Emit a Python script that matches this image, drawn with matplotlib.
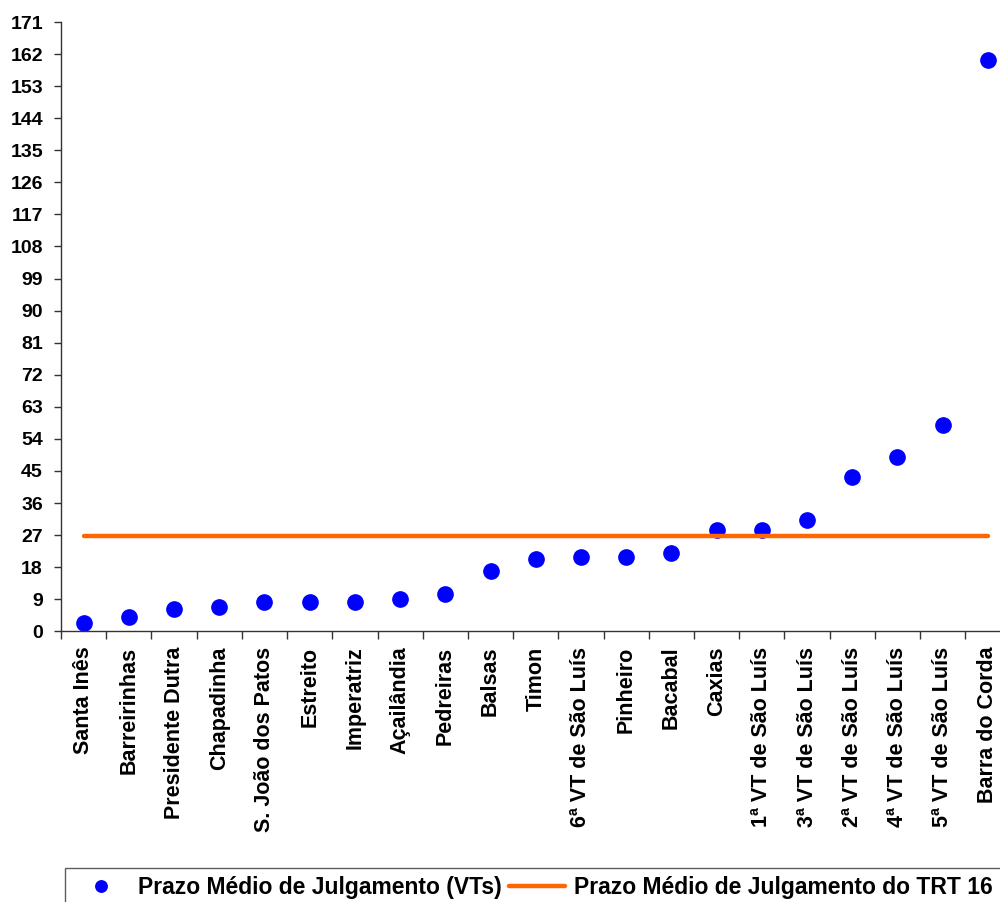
import numpy as np
import matplotlib.pyplot as plt

# labels and values
varas = ['Santa Inês', 'Barreirinhas', 'Presidente Dutra', 'Chapadinha',
         'S. João dos Patos', 'Estreito', 'Imperatriz', 'Açailândia',
         'Pedreiras', 'Balsas', 'Timon', '6ª VT de São Luís', 'Pinheiro',
         'Bacabal', 'Caxias', '1ª VT de São Luís', '3ª VT de São Luís',
         '2ª VT de São Luís', '4ª VT de São Luís', '5ª VT de São Luís',
         'Barra do Corda']
prazo_vts = [2.4, 4.1, 6.3, 6.8, 8.1, 8.1, 8.1, 9.2, 10.4, 17.0, 20.4,
             20.9, 20.9, 22.1, 28.4, 28.4, 31.1, 43.3, 49.0, 58.0, 160.2]
prazo_trt = 26.8
y_ticks = list(range(0, 172, 9))

plt.rcParams['font.family'] = ['Liberation Sans', 'DejaVu Sans']
plt.rcParams['font.weight'] = 'bold'

fig = plt.figure(figsize=(10, 9.02), dpi=100)
ax = fig.add_axes([0.061, 0.3001, 0.9495, 0.6755])

x = np.arange(len(varas))

# points for each vara and the TRT average line
ax.plot(x, prazo_vts, 'o', color='#0000FF', ms=11, linestyle='none',
        label='Prazo Médio de Julgamento (VTs)')
ax.plot(x, [prazo_trt] * len(varas), '-', color='#FF6600', lw=3.2,
        solid_capstyle='round', label='Prazo Médio de Julgamento do TRT 16')

ax.set_xlim(-0.5, len(varas) - 0.5)
ax.set_ylim(0, 171)
ax.set_yticks(y_ticks)
ax.set_yticklabels([str(v) for v in y_ticks], fontsize=14, fontweight='bold')

ax.set_xticks(x)
ax.set_xticklabels(varas, rotation=90, fontsize=15.5, fontweight='bold')
ax.set_xticks(np.arange(-0.5, len(varas)), minor=True)
ax.tick_params(axis='x', which='major', length=0, pad=11)
ax.tick_params(axis='x', which='minor', length=6, width=1, color='#333333', direction='out')
ax.tick_params(axis='y', length=5, width=1, color='#333333', direction='out', pad=8)

for s in ['top', 'right']:
    ax.spines[s].set_visible(False)
for s in ['left', 'bottom']:
    ax.spines[s].set_color('#333333')
    ax.spines[s].set_linewidth(1)

leg = ax.legend(loc='upper left', bbox_to_anchor=(0.065, 1 - 868 / 902),
                bbox_transform=fig.transFigure, ncol=2,
                frameon=True, fancybox=False, borderaxespad=0, borderpad=0.35,
                prop={'size': 16.5, 'weight': 'bold'}, handlelength=2.45,
                handletextpad=0.4, columnspacing=0.3, markerscale=0.75)
leg.get_frame().set_edgecolor('#333333')
leg.get_frame().set_linewidth(1)

plt.savefig('out.png', dpi=100)
